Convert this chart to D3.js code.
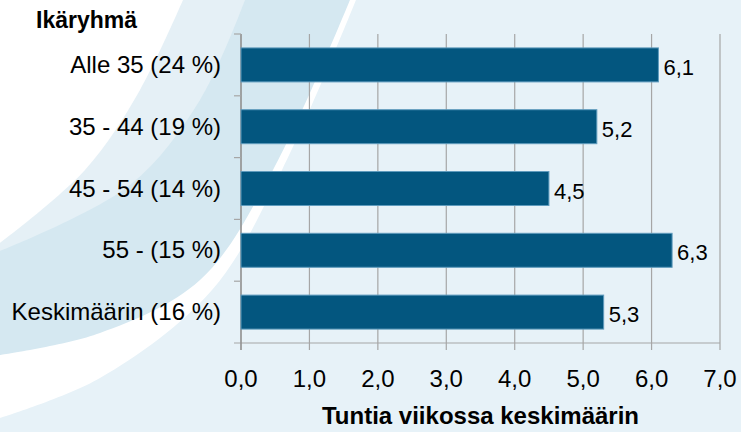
<html>

<head>
  <title>ikaryhma</title>
  <meta charset="utf-8">
</head>
<style>
  body {
    padding: 0em;
    margin: 0em;
  }
  text {
    font-family: "Liberation Sans", Arial, sans-serif;
  }
</style>

<body>
  <div id="chart"></div>
</body>

<script src="https://cdn.jsdelivr.net/npm/d3@7"></script>
<script>
  const categories = ["Alle 35 (24 %)", "35 - 44 (19 %)", "45 - 54 (14 %)", "55 - (15 %)", "Keskimäärin (16 %)"]
  const values = [6.1, 5.2, 4.5, 6.3, 5.3]
  const xTicks = [0, 1, 2, 3, 4, 5, 6, 7]
  const yTitle = "Ikäryhmä"
  const xTitle = "Tuntia viikossa keskimäärin"

  const width = 741
  const height = 432
  const svg = d3.select("#chart").append("svg")
    .attr("width", width)
    .attr("height", height)

  //背景の帯
  svg.append("rect").attr("width", width).attr("height", height).attr("fill", "#e7f2f8")
  const curve = d3.line().curve(d3.curveCatmullRom)
  function band(pts, fill) {
    svg.append("path")
      .attr("d", curve(pts) + "L0,0Z")
      .attr("fill", fill)
  }
  band([[356, 0], [282, 170], [212, 290], [100, 378], [0, 418]], "#ffffff")
  band([[350, 0], [273, 170], [200, 280], [100, 333], [0, 355]], "#d5e8f1")
  band([[245, 0], [200, 100], [130, 185], [0, 251]], "#e5f0f6")
  band([[183, 0], [140, 90], [85, 170], [0, 243]], "#ffffff")

  const pLeft = 241, pRight = 720, pTop = 34, pBottom = 343

  const x = d3.scaleLinear()
    .domain([0, 7])
    .range([pLeft, pRight])

  const y = d3.scaleBand()
    .domain(categories)
    .range([pTop, pBottom])
    .paddingInner(0.45)
    .paddingOuter(0.225)

  //縦グリッド
  svg.append("g").selectAll("line").data(xTicks).join("line")
    .attr("x1", d => x(d)).attr("x2", d => x(d))
    .attr("y1", pTop).attr("y2", pBottom + 7)
    .attr("stroke", "#a6a6a6")
    .attr("stroke-width", 1.2)

  //軸線
  svg.append("line")
    .attr("x1", pLeft - 7).attr("x2", pRight)
    .attr("y1", pBottom).attr("y2", pBottom)
    .attr("stroke", "#a6a6a6").attr("stroke-width", 1.2)
  svg.append("line")
    .attr("x1", pLeft).attr("x2", pLeft)
    .attr("y1", pTop).attr("y2", pBottom + 7)
    .attr("stroke", "#8c8c8c").attr("stroke-width", 1.2)
  const step = y.step()
  svg.append("g").selectAll("line").data(categories).join("line")
    .attr("x1", pLeft - 7).attr("x2", pLeft)
    .attr("y1", (d, i) => pTop + step * i)
    .attr("y2", (d, i) => pTop + step * i)
    .attr("stroke", "#a6a6a6").attr("stroke-width", 1.2)

  //棒
  svg.append("g").selectAll("rect").data(values).join("rect")
    .attr("x", x(0))
    .attr("y", (d, i) => y(categories[i]))
    .attr("width", d => x(d) - x(0))
    .attr("height", y.bandwidth())
    .attr("fill", "#03567f")
    .attr("stroke", "#5f9bbd")
    .attr("stroke-width", 1)

  //値ラベル
  svg.append("g").selectAll("text").data(values).join("text")
    .attr("x", d => x(d) + 5)
    .attr("y", (d, i) => y(categories[i]) + y.bandwidth() / 2 + 10)
    .attr("font-size", 22)
    .attr("fill", "#000")
    .text(d => d.toFixed(1).replace(".", ","))

  //カテゴリラベル
  svg.append("g").selectAll("text").data(categories).join("text")
    .attr("x", 221)
    .attr("y", d => y(d) + y.bandwidth() / 2 + 8)
    .attr("text-anchor", "end")
    .attr("font-size", 24)
    .attr("fill", "#000")
    .text(d => d)

  //目盛りラベル
  svg.append("g").selectAll("text").data(xTicks).join("text")
    .attr("x", d => x(d))
    .attr("y", 387)
    .attr("text-anchor", "middle")
    .attr("font-size", 24)
    .attr("fill", "#000")
    .text(d => d.toFixed(1).replace(".", ","))

  svg.append("text")
    .attr("x", 36).attr("y", 28)
    .attr("font-size", 23).attr("font-weight", "bold")
    .text(yTitle)

  svg.append("text")
    .attr("x", (pLeft + pRight) / 2).attr("y", 424)
    .attr("text-anchor", "middle")
    .attr("font-size", 24).attr("font-weight", "bold")
    .text(xTitle)
</script>

</html>
